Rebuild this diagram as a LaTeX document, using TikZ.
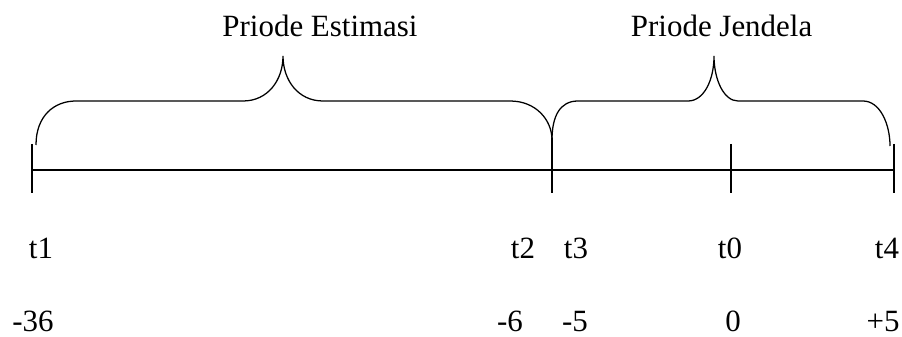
\documentclass[tikz,border=0pt]{standalone}
\usepackage{fontspec}
\setmainfont{Liberation Serif}
\usetikzlibrary{positioning}
\tikzset{
  garis/.style={line width=0.9pt},
  teks waktu/.style={font=\fontsize{22}{26}\selectfont, anchor=base, inner sep=0pt},
}

\begin{document}
\begin{tikzpicture}
    \useasboundingbox (0,0) rectangle (22.55,8.4);
    % Time axis
    \coordinate (awal) at (0.8,4.15);
    \coordinate (akhir) at (22.35,4.15);
    \draw[garis] (awal) -- (akhir);
    \foreach \x/\atas in {0.8/4.8, 13.8/4.95, 18.275/4.8, 22.35/4.8} {
      \draw[garis] (\x,\atas) -- (\x,3.575);
    }
    % Estimation period brace
    \draw[garis] (0.9,4.775) .. controls (0.9,5.5) and (1.35,5.875) .. (1.9,5.875)
      -- (6.075,5.875) .. controls (6.7,5.875) and (7.075,6.4) .. (7.075,7.0)
      .. controls (7.075,6.4) and (7.45,5.875) .. (8.075,5.875)
      -- (12.75,5.875) .. controls (13.4,5.875) and (13.8,5.4) .. (13.8,4.9);
    % Window period brace
    \draw[garis] (13.8,4.9) .. controls (13.8,5.5) and (14.0,5.875) .. (14.45,5.875)
      -- (17.2,5.875) .. controls (17.6,5.875) and (17.85,6.4) .. (17.85,7.0)
      .. controls (17.85,6.4) and (18.1,5.875) .. (18.45,5.875)
      -- (21.575,5.875) .. controls (22.0,5.875) and (22.25,5.3) .. (22.25,4.75);
    % Period titles
    \node[teks waktu] (estimasi) at (8.0,7.475) {Priode Estimasi};
    \node[teks waktu] (jendela) at (18.04,7.475) {Priode Jendela};
    % Time labels
    \foreach \x/\nama in {1.025/t1, 13.075/t2, 14.4/t3, 18.25/t0, 22.175/t4} {
      \node[teks waktu] (\nama) at (\x,1.95) {\nama};
    }
    % Day numbers
    \foreach \x/\nama/\hari in {0.825/h1/-36, 12.75/h2/-6, 14.375/h3/-5, 18.33/h0/0, 22.075/h4/+5} {
      \node[teks waktu] (\nama) at (\x,0.125) {\hari};
    }
\end{tikzpicture}
\end{document}
